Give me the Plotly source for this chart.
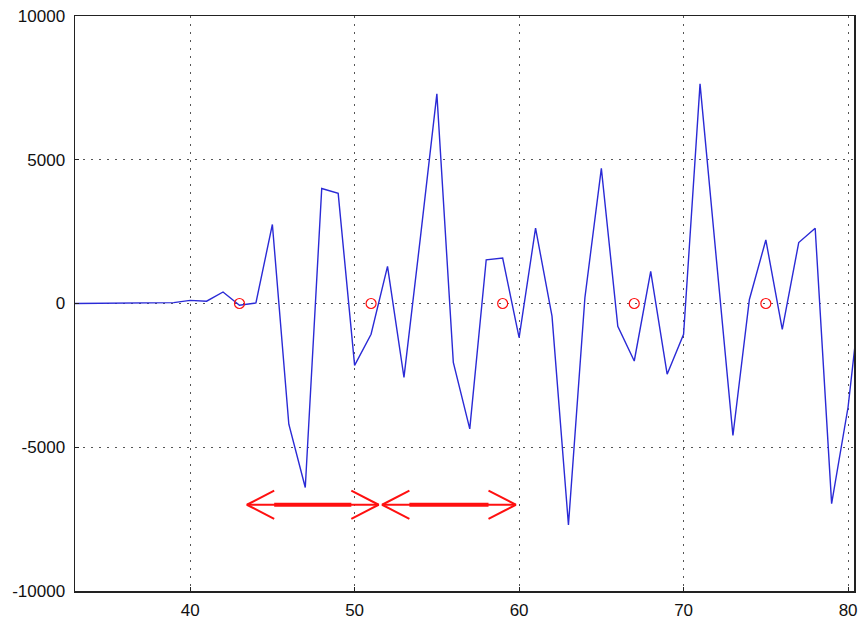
import plotly.graph_objects as go

# ---- data ----
sample_index = list(range(33, 82))
signal_values = [
    0, 5, 10, 15, 25, 40, 30, 110, 80, 400,        # 33-42
    -60, 20, 2750, -4200, -6400, 4000, 3830, -2150, -1070, 1290,  # 43-52
    -2570, 2300, 7290, -2050, -4360, 1520, 1580, -1190, 2620, -440,  # 53-62
    -7700, 200, 4700, -790, -2000, 1120, -2460, -1070, 7640, 1500,  # 63-72
    -4590, 140, 2210, -900, 2120, 2620, -6960, -3600, 1500,          # 73-81
]
marker_x = [43, 51, 59, 67, 75]
marker_y = [0, 0, 0, 0, 0]

arrow_starts = [43.45, 51.67]
arrow_ends = [51.46, 59.80]
arrow_level = -7000

x_tick_vals = [40, 50, 60, 70, 80]
x_tick_text = ["40", "50", "60", "70", "80"]
y_tick_vals = [-10000, -5000, 0, 5000, 10000]
y_tick_text = ["-10000", "-5000", "0", "5000", "10000"]

# ---- styles ----
HEAD_LEN = 1.66     # x units
HEAD_HALF = 490     # y units
RED = "#ff1010"
BLUE = "#2a2ad6"

fig = go.Figure()

fig.add_trace(go.Scatter(
    x=sample_index, y=signal_values, mode="lines",
    line=dict(color=BLUE, width=1.4), hoverinfo="skip", showlegend=False,
))

fig.add_trace(go.Scatter(
    x=marker_x, y=marker_y, mode="markers",
    marker=dict(symbol="circle-open", size=10, color=RED, line=dict(width=1.2, color=RED)),
    hoverinfo="skip", showlegend=False,
))

# arrows (double-headed, open heads)
thin_x, thin_y, thick_x, thick_y = [], [], [], []
for a, b in zip(arrow_starts, arrow_ends):
    thin_x += [a, b, None]
    thin_y += [arrow_level, arrow_level, None]
    thick_x += [a + HEAD_LEN, b - HEAD_LEN, None]
    thick_y += [arrow_level, arrow_level, None]
    thin_x += [a + HEAD_LEN, a, a + HEAD_LEN, None]
    thin_y += [arrow_level + HEAD_HALF, arrow_level, arrow_level - HEAD_HALF, None]
    thin_x += [b - HEAD_LEN, b, b - HEAD_LEN, None]
    thin_y += [arrow_level + HEAD_HALF, arrow_level, arrow_level - HEAD_HALF, None]

fig.add_trace(go.Scatter(x=thin_x, y=thin_y, mode="lines",
                         line=dict(color=RED, width=2), hoverinfo="skip", showlegend=False))
fig.add_trace(go.Scatter(x=thick_x, y=thick_y, mode="lines",
                         line=dict(color=RED, width=4), hoverinfo="skip", showlegend=False))

axis_common = dict(
    showline=True, linecolor="#222222", linewidth=1.5, mirror=True,
    showgrid=True, gridcolor="#555555", gridwidth=1, griddash="2px,6px",
    ticks="inside", ticklen=4, tickcolor="#222222",
    zeroline=False, ticklabeloverflow="allow",
    tickfont=dict(family="Liberation Sans, Arial, sans-serif", size=17, color="#111111"),
)

fig.update_xaxes(range=[33, 80.36], tickmode="array", tickvals=x_tick_vals, ticktext=x_tick_text,
                 ticklabelstandoff=3, **axis_common)
fig.update_yaxes(range=[-10000, 10000], tickmode="array", tickvals=y_tick_vals, ticktext=y_tick_text,
                 ticklabelstandoff=5, **axis_common)

fig.update_layout(
    width=858, height=620,
    margin=dict(l=75, r=0, t=16, b=27),
    paper_bgcolor="white", plot_bgcolor="white",
    showlegend=False,
)

fig.write_html(
    "out.html",
    config={"displayModeBar": False, "staticPlot": True},
    post_script="document.body.style.margin='0';document.body.style.overflow='hidden';",
)
